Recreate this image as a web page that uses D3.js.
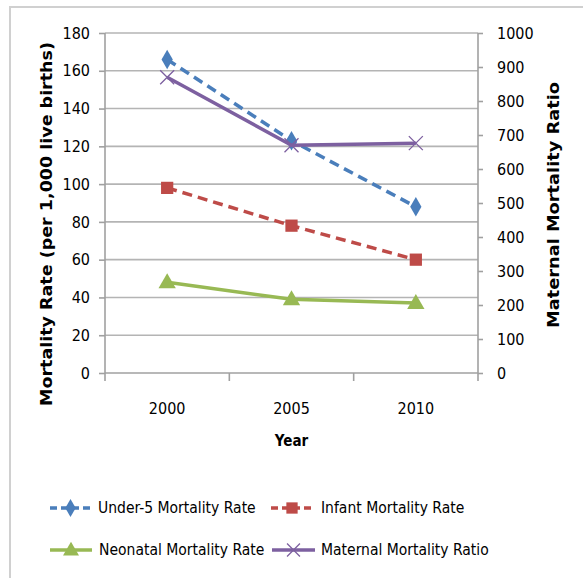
<!DOCTYPE html>
<html><head><meta charset="utf-8">
<script src="https://cdn.jsdelivr.net/npm/d3@7"></script>
<style>
html,body{margin:0;padding:0;background:#fff;}
text{font-family:"DejaVu Sans Condensed","Liberation Sans Narrow","DejaVu Sans",sans-serif;font-stretch:condensed;fill:#000;}
</style></head>
<body>
<svg id="c" width="583" height="578"></svg>
<script>
const years = ["2000","2005","2010"];
const under5 = [166, 123, 88];
const infant = [98, 78, 60];
const neonatal = [48, 39, 37];
const maternal = [870, 670, 676];
const leftTicks = [0,20,40,60,80,100,120,140,160,180];
const rightTicks = [0,100,200,300,400,500,600,700,800,900,1000];
const seriesNames = ["Under-5 Mortality Rate","Infant Mortality Rate","Neonatal Mortality Rate","Maternal Mortality Ratio"];
const colors = ["#4a7ebb","#be4b48","#98b954","#7d60a0"];

const svg = d3.select("#c");
const L = 105, R = 478, T = 33, B = 373;

// outer frame
svg.append("path").attr("d","M10,590 L10,7 L590,7").attr("fill","none").attr("stroke","#d0d0d0").attr("stroke-width",2);

const x = d3.scaleBand().domain(years).range([L,R]).padding(0);
const yL = d3.scaleLinear().domain([0,180]).range([B,T]);
const yR = d3.scaleLinear().domain([0,1000]).range([B,T]);

// gridlines
svg.append("g").selectAll("line").data(leftTicks.filter(d=>d>0)).join("line")
  .attr("x1",L).attr("x2",R).attr("y1",d=>yL(d)).attr("y2",d=>yL(d))
  .attr("stroke","#b4b4b4").attr("stroke-width",1.6);

// left axis
const gL = svg.append("g").attr("transform",`translate(${L},0)`)
  .call(d3.axisLeft(yL).tickValues(leftTicks).tickFormat(d3.format("d")).tickSize(6).tickPadding(9));
// right axis
const gR = svg.append("g").attr("transform",`translate(${R},0)`)
  .call(d3.axisRight(yR).tickValues(rightTicks).tickFormat(d3.format("d")).tickSize(5).tickPadding(14));
// bottom axis
const gB = svg.append("g").attr("transform",`translate(0,${B})`)
  .call(d3.axisBottom(x).tickSize(0).tickPadding(30));
[gL,gR,gB].forEach(g=>{
  g.select(".domain").attr("stroke","#a0a0a0").attr("stroke-width",1.6);
  g.selectAll(".tick line").attr("stroke","#a0a0a0").attr("stroke-width",1.6);
  g.selectAll("text").style("font-size","16px").attr("fill","#000");
});
gL.select(".domain").attr("d",`M0,${T}V${B}`);
gR.select(".domain").attr("d",`M0,${T}V${B}`);
gB.select(".domain").attr("d",`M${L},0H${R}`);
// category boundary ticks
svg.append("g").selectAll("line").data(years.concat(["end"])).join("line")
  .attr("x1",(d,i)=>L + i*x.bandwidth()).attr("x2",(d,i)=>L + i*x.bandwidth())
  .attr("y1",B).attr("y2",B+8).attr("stroke","#a0a0a0").attr("stroke-width",1.6);

// axis titles
svg.append("text").attr("transform","translate(52,224) rotate(-90)")
  .attr("text-anchor","middle").style("font-size","15px").style("font-weight","bold")
  .attr("textLength",364).attr("lengthAdjust","spacingAndGlyphs")
  .text("Mortality Rate (per 1,000 live births)");
svg.append("text").attr("transform","translate(559,205) rotate(-90)")
  .attr("text-anchor","middle").style("font-size","15px").style("font-weight","bold")
  .attr("textLength",246).attr("lengthAdjust","spacingAndGlyphs")
  .text("Maternal Mortality Ratio");
svg.append("text").attr("x",x("2005")+x.bandwidth()/2).attr("y",446)
  .attr("text-anchor","middle").style("font-size","15px").style("font-weight","bold").text("Year");

const cx = d => x(d)+x.bandwidth()/2;
const series = [
  {vals:under5, y:yL, dash:"10,6", marker:"diamond"},
  {vals:infant, y:yL, dash:"10,6", marker:"square"},
  {vals:neonatal, y:yL, dash:null, marker:"triangle"},
  {vals:maternal, y:yR, dash:null, marker:"x"}
];
const line = (ys) => d3.line().x((d,i)=>cx(years[i])).y(d=>ys(d));

function drawMarker(g, type, px, py, col, scale){
  scale = scale||1;
  if(type==="diamond"){
    g.append("path").attr("d",d3.symbol(d3.symbolDiamond, 110*scale)()).attr("transform",`translate(${px},${py})`).attr("fill",col);
  } else if(type==="square"){
    g.append("path").attr("d",d3.symbol(d3.symbolSquare, 150*scale)()).attr("transform",`translate(${px},${py})`).attr("fill",col);
  } else if(type==="triangle"){
    g.append("path").attr("d",d3.symbol(d3.symbolTriangle, 130*scale)()).attr("transform",`translate(${px},${py+1})`).attr("fill",col);
  } else {
    const s = 7*Math.sqrt(scale);
    g.append("path").attr("d",`M${px-s},${py-s}L${px+s},${py+s}M${px-s},${py+s}L${px+s},${py-s}`)
      .attr("stroke",col).attr("stroke-width",1.3).attr("fill","none");
  }
}

const gS = svg.append("g");
series.forEach((s,k)=>{
  gS.append("path").datum(s.vals).attr("d",line(s.y)).attr("fill","none")
    .attr("stroke",colors[k]).attr("stroke-width",3.5)
    .attr("stroke-dasharray",s.dash);
  s.vals.forEach((v,i)=>drawMarker(gS, s.marker, cx(years[i]), s.y(v), colors[k]));
});

// legend
const legendItems = [
  {k:0, x1:50, x2:91, tx:98, y:508},
  {k:1, x1:271, x2:313, tx:321, y:508},
  {k:2, x1:50, x2:92, tx:99, y:550},
  {k:3, x1:272, x2:315, tx:321, y:550}
];
const gLeg = svg.append("g");
legendItems.forEach(it=>{
  const s = series[it.k];
  gLeg.append("line").attr("x1",it.x1).attr("x2",it.x2).attr("y1",it.y).attr("y2",it.y)
    .attr("stroke",colors[it.k]).attr("stroke-width",3.5).attr("stroke-dasharray",s.dash? "7,4":null);
  drawMarker(gLeg, s.marker, (it.x1+it.x2)/2, it.y, colors[it.k], 0.85);
  gLeg.append("text").attr("x",it.tx).attr("y",it.y).attr("dy","0.35em")
    .style("font-size","15.5px").text(seriesNames[it.k]);
});
</script>
</body></html>
